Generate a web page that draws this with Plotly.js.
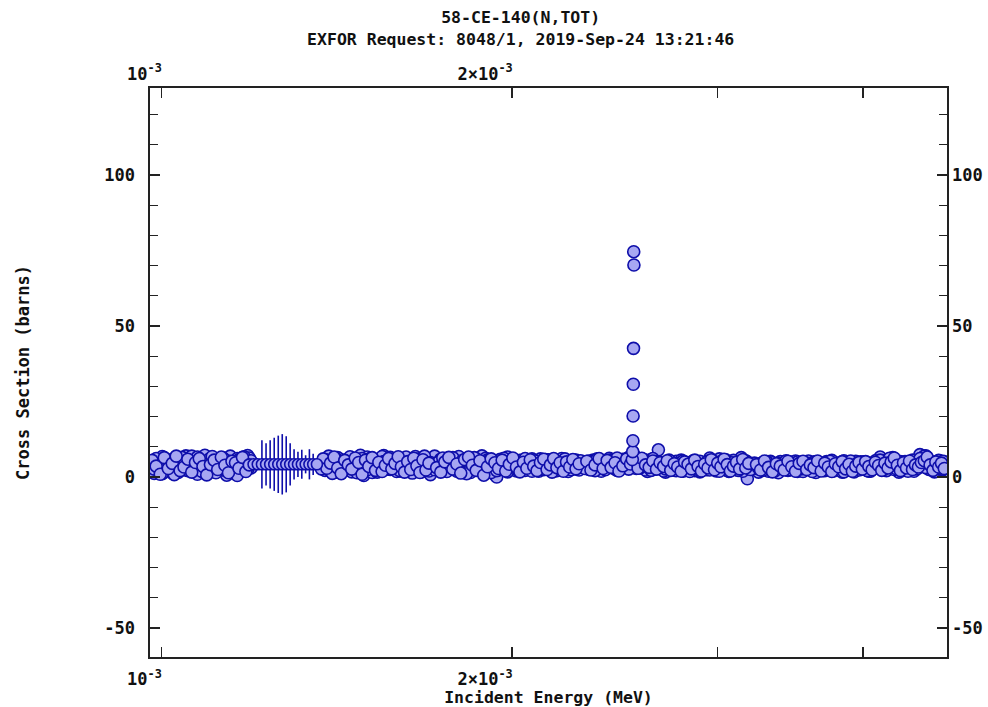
<!DOCTYPE html>
<html>
<head>
<meta charset="utf-8">
<script src="https://cdn.plot.ly/plotly-3.0.1.min.js"></script>
<style>
  html, body { margin: 0; padding: 0; background: #ffffff; }
  #chart { width: 988px; height: 707px; }
</style>
</head>
<body>
<div id="chart"></div>
<script>
// 58-Ce-140 total neutron cross section, energies in eV, cross sections in barns

// Transmission runs 1 and 2 share one energy grid
const gridEnergyEV = [
  978, 986, 994, 1002, 1010, 1018, 1026, 1034, 1042, 1050, 1058, 1066, 1074, 1082,
  1090, 1098, 1106, 1114, 1122, 1130, 1138, 1146, 1154, 1162, 1170, 1178, 1186, 1194,
  1372, 1382, 1392, 1402, 1412, 1422, 1432, 1442, 1452, 1462, 1472, 1482, 1492, 1502,
  1512, 1522, 1532, 1542, 1552, 1562, 1572, 1582, 1592, 1602, 1612, 1622, 1632, 1642,
  1652, 1662, 1672, 1682, 1692, 1702,
  1716, 1730, 1744, 1758, 1772, 1786, 1800, 1814, 1828, 1842, 1856, 1870, 1884, 1898,
  1912, 1926, 1940, 1954, 1968, 1982, 1996, 2010, 2024, 2038, 2052, 2066, 2080, 2094,
  2108, 2122, 2136, 2150, 2164, 2178, 2192, 2206, 2220, 2234, 2248, 2262, 2276, 2290,
  2309, 2328, 2347, 2366, 2385, 2404, 2423, 2442, 2461, 2480, 2499, 2518, 2537, 2556,
  2575, 2594, 2613, 2632, 2651, 2670, 2689, 2708, 2727, 2746, 2765, 2784, 2803, 2822,
  2841, 2860, 2879, 2898, 2917, 2936, 2955, 2974, 2993, 3012, 3031, 3050, 3069, 3088,
  3107, 3126, 3145, 3164, 3183, 3202,
  3228, 3254, 3280, 3306, 3332, 3358, 3384, 3410, 3436, 3462, 3488, 3514, 3540, 3566,
  3592, 3618, 3644, 3670, 3696, 3722, 3748, 3774, 3800, 3826, 3852, 3878, 3904, 3930,
  3956, 3982, 4008, 4034, 4060, 4086, 4112, 4138, 4164, 4190, 4216, 4242, 4268, 4294,
  4320, 4346, 4372, 4398, 4424, 4450, 4476, 4502, 4528, 4554, 4580, 4606, 4632, 4658,
  4684, 4710
];
const run1Sigma = [
  3.1, 1.2, 5.2, 6.8, 2.4, 4.6, 6.2, 1.5, 3.8, 7.0, 2.9, 6.4, 0.9, 5.8,
  7.2, 3.3, 1.8, 5.5, 2.7, 4.9, 0.6, 6.9, 3.6, 6.1, 1.9, 4.4, 7.1, 3.0,
  4.5, 2.2, 6.9, 5.0, 1.6, 3.9, 5.6, 2.8, 4.2, 1.9, 5.3, 7.2, 0.5, 6.6,
  3.4, 2.1, 4.8, 6.0, 7.1, 6.3, 2.5, 4.1, 1.8, 5.2, 3.0, 4.6, 2.3, 5.5,
  6.8, 4.0, 1.7, 3.6, 5.0, 0.8,
  6.9, 3.2, 2.0, 4.7, 3.1, 5.6, 6.8, 2.6, 4.3, 1.5, 3.8, 5.1, 7.0, 6.2,
  2.9, 1.2, 0.0, 5.9, 3.5, 6.6, 2.4, 4.5, 3.1, 5.4, 2.2, 4.0, 6.0, 3.3,
  1.9, 4.8, 2.7, 5.7, 3.6, 2.1, 4.4, 6.1, 3.0, 1.8, 4.2, 5.5, 2.6, 3.9,
  4.3, 2.5, 5.6, 3.2, 1.9, 4.6, 6.2, 3.0, 2.2, 5.1, 3.7, 6.5, 4.8, 2.8,
  5.3, 3.4, 1.8, 4.2, 2.6, 9.0, 3.1, 1.6, 4.4, 2.3, 5.2, 3.6, 1.9, 4.7,
  2.8, 5.4, 3.3, 1.7, 4.0, 2.4, 6.3, 3.8, 2.0, 6.0, 3.2, 4.6, 1.8, 3.9,
  2.5, 5.1, 6.4, 2.9, -0.6, 4.1,
  3.4, 1.6, 4.8, 2.7, 5.2, 3.1, 1.4, 4.3, 2.5, 5.0, 3.6, 1.8, 4.6, 2.9,
  5.3, 3.2, 1.5, 4.1, 2.6, 5.1, 3.7, 2.0, 4.5, 3.0, 5.4, 2.3, 4.0, 1.7,
  3.5, 5.0, 2.8, 4.7, 1.9, 3.9, 5.5, 6.6, 3.3, 2.1, 4.6, 6.4, 3.0, 1.6,
  4.2, 2.7, 5.0, 3.4, 1.9, 4.4, 7.4, 5.2, 7.0, 2.6, 4.3, 1.7, 3.8, 5.3,
  2.4, 4.9
];
const run2Sigma = [
  4.8, 2.6, 3.4, 1.1, 5.9, 3.2, 0.8, 4.7, 6.5, 2.3, 5.1, 3.9, 6.6, 2.0,
  4.2, 5.7, 6.8, 1.4, 4.0, 6.3, 3.5, 2.2, 5.0, 0.5, 4.6, 6.7, 2.5, 5.4,
  2.7, 5.8, 3.3, 1.2, 6.1, 4.4, 2.0, 5.2, 6.7, 3.6, 1.4, 4.9, 3.1, 2.4,
  6.2, 4.5, 1.6, 3.7, 5.1, 2.8, 6.5, 3.3, 5.7, 2.1, 4.4, 6.6, 3.8, 1.3,
  4.3, 5.9, 2.6, 6.9, 3.5, 4.8,
  2.4, 5.0, 6.3, 1.8, 4.6, 2.9, 3.7, 5.5, 1.1, 4.9, 6.4, 3.0, 2.3, 4.1,
  5.7, 3.5, 2.1, 4.0, 6.2, 1.7, 5.2, 3.6, 2.2, 4.8, 6.1, 3.2, 1.9, 5.3,
  4.2, 2.6, 5.8, 3.4, 1.6, 4.7, 2.9, 5.1, 6.0, 3.8, 2.4, 4.5, 3.1, 5.4,
  2.8, 5.3, 3.6, 6.0, 4.1, 2.4, 3.9, 5.5, 6.3, 3.1, 4.9, 2.6, 6.6, 4.2,
  3.0, 5.8, 4.6, 2.2, 5.1, 3.4, 4.8, 2.7, 5.6, 3.9, 2.1, 4.5, 5.3, 3.2,
  1.8, 4.4, 2.6, 5.2, 3.7, 4.9, 2.3, 5.4, 4.0, 1.9, 3.4, 5.7, 2.9, 4.7,
  3.6, 2.2, 4.1, 3.8, 5.0, 2.5,
  4.6, 3.0, 2.2, 5.1, 3.8, 1.9, 4.5, 3.3, 5.4, 2.4, 4.2, 5.0, 2.7, 4.4,
  3.1, 1.8, 4.9, 3.6, 2.2, 4.0, 5.2, 2.9, 3.5, 4.8, 1.7, 3.9, 5.3, 2.6,
  4.6, 3.2, 5.0, 2.1, 4.3, 3.0, 4.1, 5.6, 2.4, 3.7, 6.2, 4.5, 2.8, 4.0,
  3.3, 5.1, 1.9, 4.2, 3.5, 2.7, 6.1, 4.8, 3.1, 5.6, 3.9, 2.5, 4.4, 3.0,
  5.2, 3.6
];

// Transmission runs 3 and 4, on a staggered grid
const run3EnergyEV = [
  982, 990, 998, 1006, 1014, 1022, 1030, 1038, 1046, 1054, 1062, 1070, 1078, 1086,
  1094, 1102, 1110, 1118, 1126, 1134, 1142, 1150, 1158, 1166, 1174, 1182, 1190,
  1377, 1387, 1397, 1407, 1417, 1427, 1437, 1447, 1457, 1467, 1477, 1487, 1497, 1507,
  1517, 1527, 1537, 1547, 1557, 1567, 1577, 1587, 1597, 1607, 1617, 1627, 1637, 1647,
  1657, 1667, 1677, 1687, 1697,
  1723, 1737, 1751, 1765, 1779, 1793, 1807, 1821, 1835, 1849, 1863, 1877, 1891, 1905,
  1919, 1933, 1947, 1961, 1975, 1989, 2003, 2017, 2031, 2045, 2059, 2073, 2087, 2101,
  2115, 2129, 2143, 2157, 2171, 2185, 2199, 2213, 2227, 2241, 2255, 2269, 2283,
  2318, 2337, 2356, 2375, 2394, 2413, 2432, 2451, 2470, 2489, 2508, 2527, 2546, 2565,
  2584, 2603, 2622, 2641, 2660, 2679, 2698, 2717, 2736, 2755, 2774, 2793, 2812, 2831,
  2850, 2869, 2888, 2907, 2926, 2945, 2964, 2983, 3002, 3021, 3040, 3059, 3078, 3097,
  3116, 3135, 3154, 3173, 3192,
  3241, 3267, 3293, 3319, 3345, 3371, 3397, 3423, 3449, 3475, 3501, 3527, 3553, 3579,
  3605, 3631, 3657, 3683, 3709, 3735, 3761, 3787, 3813, 3839, 3865, 3891, 3917, 3943,
  3969, 3995, 4021, 4047, 4073, 4099, 4125, 4151, 4177, 4203, 4229, 4255, 4281, 4307,
  4333, 4359, 4385, 4411, 4437, 4463, 4489, 4515, 4541, 4567, 4593, 4619, 4645, 4671,
  4697
];
const run3Sigma = [
  2.0, 6.1, 4.3, 3.0, 5.4, 1.3, 4.9, 3.7, 5.6, 2.1, 6.9, 4.4, 3.2, 1.7,
  5.0, 6.2, 2.6, 3.9, 6.0, 2.2, 5.3, 4.1, 1.0, 5.8, 3.4, 2.8, 6.3,
  3.8, 5.1, 1.9, 4.3, 6.4, 2.5, 3.4, 5.9, 1.7, 4.6, 3.2, 6.1, 2.9, 5.0,
  1.5, 4.1, 3.5, 6.8, 4.7, 2.6, 5.4, 3.0, 4.2, 1.9, 6.2, 3.6, 4.9, 2.2,
  5.3, 6.0, 3.1, 4.4, 2.0,
  4.5, 5.9, 2.8, 3.6, 6.4, 1.9, 4.2, 5.0, 3.3, 2.5, 6.0, 4.6, 3.1, 5.7,
  1.5, 3.9, 2.3, 4.4, 5.8, 3.0, 4.9, 2.0, 5.5, 3.4, 4.1, 2.7, 5.2, 3.7,
  6.0, 2.4, 4.3, 3.5, 5.0, 2.1, 3.9, 5.3, 2.8, 4.6, 3.2, 5.6, 2.3,
  3.5, 4.8, 2.1, 5.0, 3.3, 4.4, 5.7, 2.7, 4.0, 5.9, 3.1, 5.2, 7.2, 3.6,
  4.5, 2.3, 5.6, 6.1, 3.0, 4.3, 2.0, 3.8, 5.0, 2.9, 4.1, 5.6, 2.4, 3.6,
  4.9, 2.1, 3.9, 4.7, 2.5, 5.3, 3.1, 4.4, 2.6, 5.1, 3.3, 2.2, 4.8, 5.5,
  3.0, 4.2, 1.9, 5.4, 3.7,
  2.8, 4.4, 3.5, 1.9, 4.7, 2.6, 5.1, 3.9, 2.2, 4.1, 5.3, 3.0, 1.8, 4.6,
  2.7, 5.0, 3.4, 4.3, 2.1, 3.7, 5.5, 2.9, 4.2, 1.6, 3.8, 4.9, 3.1, 5.2,
  2.3, 4.5, 3.6, 1.9, 4.0, 5.4, 2.8, 4.7, 3.2, 5.9, 4.0, 2.5, 3.7, 5.1,
  2.2, 4.5, 3.4, 5.6, 2.9, 4.1, 5.3, 6.9, 3.5, 2.4, 4.8, 3.2, 5.5, 2.6,
  4.2
];
const run4Sigma = [
  5.5, 3.6, 0.9, 6.4, 2.8, 4.5, 6.9, 2.1, 3.3, 5.9, 1.6, 4.8, 6.1, 3.5,
  0.7, 4.1, 5.6, 2.5, 6.6, 3.9, 1.4, 5.2, 4.7, 2.9, 6.5, 1.8, 4.0,
  6.0, 2.9, 4.6, 6.6, 3.0, 1.1, 5.5, 4.0, 2.6, 6.3, 4.8, 0.9, 5.6, 3.5,
  6.4, 2.2, 4.9, 1.8, 3.9, 6.1, 2.7, 4.5, 6.7, 3.4, 1.6, 5.1, 2.5, 6.2,
  3.7, 1.5, 5.7, 2.3, 4.6,
  3.1, 1.6, 5.0, 6.5, 2.6, 4.3, 1.3, 5.8, 6.6, 3.9, 2.2, 5.4, 0.6, 3.4,
  6.0, 4.7, 2.8, 5.6, 2.0, 4.2, 6.3, 3.3, 1.7, 4.9, 2.9, 5.7, 3.6, 2.1,
  4.8, 5.9, 2.5, 4.0, 6.1, 3.1, 4.7, 1.9, 5.0, 3.3, 5.8, 2.7, 4.4,
  5.2, 2.3, 4.0, 6.1, 2.8, 5.5, 3.2, 4.7, 2.0, 3.7, 6.0, 4.3, 5.5, 2.9,
  6.2, 4.0, 3.2, 5.3, 2.6, 4.7, 3.5, 5.4, 2.2, 4.4, 3.3, 1.9, 5.0, 4.2,
  2.7, 5.6, 3.5, 2.0, 4.3, 3.0, 5.7, 2.4, 4.6, 3.4, 5.9, 4.1, 2.0, 3.6,
  4.9, 2.7, 5.8, 3.0, 4.5,
  4.1, 2.3, 5.3, 3.2, 1.7, 4.4, 3.6, 2.3, 5.2, 3.4, 1.9, 4.5, 5.2, 2.5,
  4.0, 3.1, 5.3, 2.0, 4.6, 3.3, 1.8, 4.4, 3.4, 5.1, 2.7, 4.2, 1.9, 3.6,
  4.8, 2.6, 5.1, 3.5, 2.4, 4.9, 3.8, 2.2, 4.6, 3.0, 5.0, 6.3, 3.9, 2.1,
  4.7, 3.0, 5.3, 2.5, 4.0, 3.3, 4.8, 5.4, 6.6, 4.0, 2.2, 5.0, 3.3, 4.6,
  2.8
];

// Fine scan with large statistical uncertainties
const scanEnergyEV = [1200, 1210, 1220, 1230, 1240, 1250, 1260, 1270, 1280,
                      1290, 1300, 1310, 1320, 1330, 1340, 1350, 1360];
const scanSigma    = [4.2, 4.2, 4.2, 4.2, 4.2, 4.2, 4.2, 4.2, 4.2,
                      4.2, 4.2, 4.2, 4.2, 4.2, 4.2, 4.2, 4.2];
const scanError    = [1.2, 1.5, 8.0, 7.0, 8.0, 8.8, 9.5, 10.0, 9.3,
                      7.0, 5.0, 4.2, 4.8, 3.0, 5.0, 3.5, 1.5];

// Points across the 2.54 keV resonance
const resEnergyEV = [2536, 2538, 2539, 2540, 2541, 2542, 2543, 2544];
const resSigma    = [5.8, 8.4, 12.0, 20.2, 30.7, 42.6, 74.6, 70.2];

// Axis ticks: labelled majors, unlabelled decade subdivisions
const xTickValsMeV = [0.001, 0.002];
const xTickText = ['\u00a0\u00a010<sup>-3</sup>', '2\u00d710<sup>-3</sup>'];
const xMinorTickValsMeV = [0.003, 0.004];
const yTickVals = [-50, 0, 50, 100];
const yTickText = ['-50', '0', '50', '100'];

const toMeV = e => e / 1e6;

const FILL = '#a7a7f2';
const EDGE = '#0e0eaa';
const FONT = 'DejaVu Sans Mono, Liberation Mono, monospace';

const markerStyle = { symbol: 'circle', size: 12, color: FILL, line: { color: EDGE, width: 1.6 } };

function pointTrace(energyEV, sigma, extra) {
  return Object.assign({
    type: 'scatter', mode: 'markers',
    x: energyEV.map(toMeV), y: sigma,
    marker: markerStyle, hoverinfo: 'x+y'
  }, extra || {});
}

const traces = [
  pointTrace(gridEnergyEV, run1Sigma),
  pointTrace(run3EnergyEV, run3Sigma),
  pointTrace(gridEnergyEV, run2Sigma),
  pointTrace(run3EnergyEV, run4Sigma),
  pointTrace(scanEnergyEV, scanSigma, {
    marker: Object.assign({}, markerStyle, { size: 11 }),
    error_y: { type: 'data', array: scanError, visible: true, color: EDGE, thickness: 1.6, width: 0 }
  }),
  // drawn on the mirrored top/right axes so those get their labels
  pointTrace(resEnergyEV, resSigma, { xaxis: 'x2', yaxis: 'y2' })
];

const xRange = [Math.log10(0.000978), Math.log10(0.004722)];
const yRange = [-59.6, 128.8];

const AXIS = '#222222';
const tickFont = { family: FONT, size: 17, color: '#111111', weight: 'bold' };

const xCommon = {
  type: 'log', range: xRange, autorange: false,
  tickmode: 'array', tickvals: xTickValsMeV, ticktext: xTickText,
  ticks: 'inside', ticklen: 10, tickwidth: 1.3, tickcolor: AXIS,
  minor: { tickmode: 'array', tickvals: xMinorTickValsMeV, ticks: 'inside', ticklen: 10, tickwidth: 1.3, tickcolor: AXIS, showgrid: false },
  tickfont: tickFont, ticklabelshift: -27,
  showgrid: false, zeroline: false
};
const yCommon = {
  range: yRange, autorange: false,
  tickmode: 'array', tickvals: yTickVals, ticktext: yTickText,
  ticks: 'inside', ticklen: 10, tickwidth: 1.3, tickcolor: AXIS,
  minor: { tickmode: 'linear', tick0: 0, dtick: 10, ticks: 'inside', ticklen: 8, tickwidth: 1.3, tickcolor: AXIS, showgrid: false },
  tickfont: tickFont,
  showgrid: false, zeroline: false
};

const layout = {
  width: 988, height: 707,
  margin: { l: 150, r: 41, t: 88, b: 50, pad: 0 },
  paper_bgcolor: '#ffffff', plot_bgcolor: 'rgba(0,0,0,0)',
  showlegend: false,
  title: {
    text: '58-CE-140(N,TOT)<br>EXFOR Request: 8048/1, 2019-Sep-24 13:21:46',
    font: { family: FONT, size: 16.5, color: '#111111', weight: 'bold' },
    x: 0.527, xref: 'container', xanchor: 'center',
    y: 0.967, yref: 'container', yanchor: 'top'
  },
  xaxis: Object.assign({}, xCommon, {
    side: 'bottom', showline: true, linecolor: AXIS, linewidth: 1.6, mirror: true,
    ticklabelstandoff: 6,
    title: { text: 'Incident Energy (MeV)', font: { family: FONT, size: 16.5, color: '#111111', weight: 'bold' }, standoff: 4 }
  }),
  xaxis2: Object.assign({}, xCommon, {
    overlaying: 'x', side: 'top', showline: false, ticklabelstandoff: 4
  }),
  yaxis: Object.assign({}, yCommon, {
    side: 'left', showline: true, linecolor: AXIS, linewidth: 1.6, mirror: true,
    ticklabelstandoff: 10,
    title: { text: 'Cross Section (barns)', font: { family: FONT, size: 17, color: '#111111', weight: 'bold' }, standoff: 70 }
  }),
  yaxis2: Object.assign({}, yCommon, {
    overlaying: 'y', side: 'right', showline: false, ticklabelstandoff: 4
  })
};

Plotly.newPlot('chart', traces, layout, { displayModeBar: false, staticPlot: true });
</script>
</body>
</html>
